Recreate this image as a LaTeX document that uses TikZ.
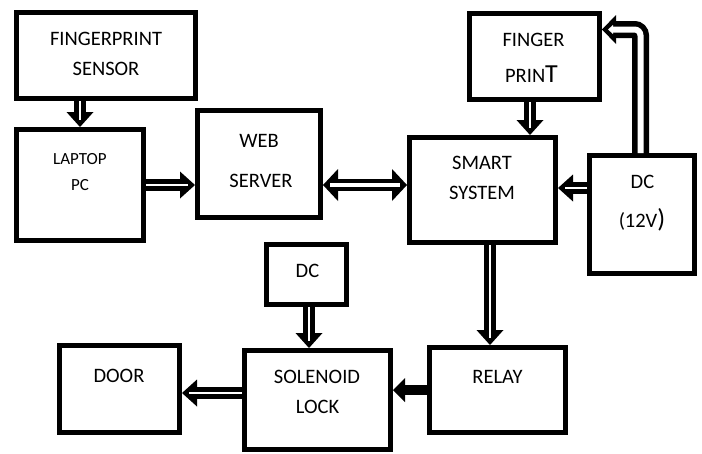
\documentclass[tikz,border=0pt]{standalone}
\usepackage{fontspec}
\setmainfont{Carlito}
\usetikzlibrary{arrows.meta}
\begin{document}
\begin{tikzpicture}[x=1pt, y=-1pt,
  box/.style={draw, line width=5pt, inner sep=0pt},
  lbl/.style={anchor=base, inner sep=0pt, font=\fontsize{20.5}{24}\selectfont},
  lblsmall/.style={anchor=base, inner sep=0pt, font=\fontsize{17}{20}\selectfont},
  fat/.tip={Triangle[length=15pt, width=27pt, line width=0pt]},
  widefat/.tip={Triangle[length=15pt, width=32pt, line width=0pt]},
  hollow/.style={line width=12pt, -fat,
    postaction={draw, white, line width=2.5pt, -, shorten >=7pt}},
  hollowboth/.style={line width=12pt, widefat-widefat,
    postaction={draw, white, line width=4pt, -, shorten >=7pt, shorten <=7pt}},
  outlined/.style={line width=17pt, -{Triangle[length=14pt, width=29pt, line width=0pt]},
    postaction={draw, white, line width=6pt,
      -{Triangle[length=5pt, width=9pt, line width=0pt]}, shorten >=6pt}},
  solidarrow/.style={line width=10pt, -{Triangle[length=12pt, width=24pt, line width=0pt]}},
]
\useasboundingbox (0,0) rectangle (702,453);

% blocks (centre, inner size = outer size minus the border width)
\node[box, minimum width=179pt, minimum height=86pt]  (fs)    at (106,55.5)  {};
\node[box, minimum width=127pt, minimum height=111pt] (lap)   at (80,185)    {};
\node[box, minimum width=123pt, minimum height=107pt] (web)   at (259,164)   {};
\node[box, minimum width=146pt, minimum height=105pt] (smart) at (482.5,190) {};
\node[box, minimum width=130pt, minimum height=86pt]  (fp)    at (534.5,56.5){};
\node[box, minimum width=105pt, minimum height=118pt] (dc12)  at (642,214.5) {};
\node[box, minimum width=80pt,  minimum height=60pt]  (dcs)   at (306.5,274.5){};
\node[box, minimum width=146pt, minimum height=99pt]  (sol)   at (317.5,400) {};
\node[box, minimum width=120pt, minimum height=87pt]  (door)  at (119.5,389) {};
\node[box, minimum width=136pt, minimum height=85pt]  (relay) at (497.5,390) {};

% labels
\node[lbl] (fs1) at (106,45) {FINGERPRINT};
\node[lbl] (fs2) at (106,75) {SENSOR};
\node[lblsmall] (lap1) at (80,164) {LAPTOP};
\node[lblsmall] (lap2) at (80,190) {PC};
\node[lbl] (web1) at (259,147) {WEB};
\node[lbl] (web2) at (261,187) {SERVER};
\node[lbl] (smart1) at (482,169) {SMART};
\node[lbl] (smart2) at (482,199) {SYSTEM};
\node[lbl] (fp1) at (533.5,46) {FINGER};
\node[lbl] (fp2) at (531.5,82) {PRIN{\fontsize{26}{30}\selectfont T}};
\node[lbl] (dc1) at (642.5,188) {DC};
\node[lbl] (dc2) at (642,227) {(12V{\fontsize{26}{30}\selectfont )}};
\node[lbl] (dcs1) at (307.5,277) {DC};
\node[lbl] (door1) at (119,382) {DOOR};
\node[lbl] (sol1) at (317,383) {SOLENOID};
\node[lbl] (sol2) at (317.5,413) {LOCK};
\node[lbl] (relay1) at (497.5,383) {RELAY};

% connectors
\draw[hollow] (fs.south -| lap.north) -- (lap.north);
\draw[hollow] (lap.east) -- (lap.east -| web.west);
\draw[hollowboth] ([yshift=-21pt]web.east) -- ([yshift=-21pt]web.east -| smart.west);
\draw[hollow] ([xshift=-4.5pt]fp.south) -- ([xshift=-4.5pt]fp.south |- smart.north);
\draw[hollow] ([yshift=2pt]smart.east -| dc12.west) -- ([yshift=2pt]smart.east);
\draw[outlined, rounded corners=6pt] ([xshift=-1.5pt]dc12.north) |- ([yshift=27pt]fp.east);
\draw[hollow] ([xshift=7.5pt]smart.south) -- ([xshift=7.5pt]smart.south |- relay.north);
\draw[hollow] ([xshift=2.5pt]dcs.south) -- ([xshift=2.5pt]dcs.south |- sol.north);
\draw[solidarrow] (relay.west) -- (relay.west -| sol.east);
\draw[hollow] ([yshift=7pt]sol.west) -- ([yshift=7pt]sol.west -| door.east);
\end{tikzpicture}
\end{document}
